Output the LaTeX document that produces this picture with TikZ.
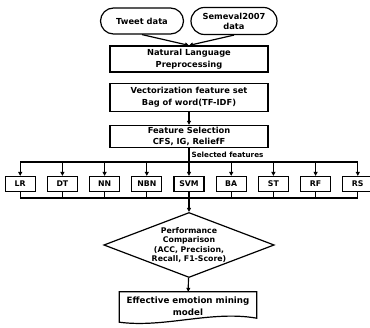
\documentclass[tikz,border=0pt]{standalone}
\usepackage{fontspec}
\setmainfont{DejaVu Sans}
\usetikzlibrary{positioning,shapes.geometric,shapes.misc,arrows.meta}
\tikzset{
box/.style={draw,line width=1.2pt,minimum width=158pt,align=center,inner sep=1pt,font=\bfseries\fontsize{8.3}{11.5}\selectfont},
src/.style={draw,line width=1.2pt,rounded rectangle,align=center,inner sep=1pt,font=\bfseries\fontsize{8.3}{10}\selectfont},
clf/.style={draw,line width=1.2pt,minimum width=30pt,minimum height=15pt,inner sep=0pt,font=\bfseries\fontsize{7.8}{9}\selectfont},
link/.style={line width=1.2pt},
arr/.style={line width=1.2pt,-{Triangle[length=4pt,width=4pt]}}
}
\begin{document}
\begin{tikzpicture}[x=1pt,y=-1pt]
\useasboundingbox (0,0) rectangle (370,328);
\node[src,minimum width=85pt,minimum height=26pt](tweet) at (142,21) {Tweet data};
\node[src,minimum width=88pt,minimum height=27pt](semeval) at (234,21) {Semeval2007\\data};
\node[box,minimum height=26pt](nlp) at (189,59) {Natural Language\\Preprocessing};
\node[box,minimum height=28pt,below=10pt of nlp](vec) {Vectorization feature set\\Bag of word(TF-IDF)};
\node[box,minimum height=22pt,below=13pt of vec](fs) {Feature Selection\\CFS, IG, ReliefF};
\coordinate (split) at (189,162);
\node[clf](svm) at (189,184) {SVM};
\node[clf,left=11pt of svm](nbn) {NBN};
\node[clf,left=11pt of nbn](nn) {NN};
\node[clf,left=11pt of nn](dt) {DT};
\node[clf,left=11pt of dt](lr) {LR};
\node[clf,right=11pt of svm](ba) {BA};
\node[clf,right=11pt of ba](st) {ST};
\node[clf,right=11pt of st](rf) {RF};
\node[clf,right=11pt of rf](rs) {RS};
\coordinate (join) at (189,198);
\node[draw,diamond,aspect=2.7,inner sep=0pt,minimum height=65pt,line width=1.2pt,align=center,font=\bfseries\fontsize{7.8}{9.5}\selectfont](perf) at (189,245) {Performance\\Comparison\\(ACC, Precision,\\Recall, F1-Score)};
\node[align=center,minimum width=137pt,minimum height=28pt,inner sep=1pt,font=\bfseries\fontsize{8.7}{12}\selectfont](final) at (188,306) {Effective emotion mining\\model};
\draw[line width=1.2pt] ([yshift=-2pt]final.south west) -- (final.north west) -- (final.north east) -- ([yshift=2pt]final.south east)
  .. controls +(-45,-8) and +(45,6) .. ([yshift=-2pt]final.south west) -- cycle;
\draw[arr](tweet.south) -- (nlp.north);
\draw[arr](semeval.south) -- (nlp.north);
\draw[arr](vec) -- (fs);
\draw[link](fs) -- node[right,inner sep=2pt,font=\bfseries\fontsize{7.2}{9}\selectfont](sel){Selected features} (split);
\draw[link](lr |- split) -- (rs |- split);
\draw[arr](lr |- split) -- (lr);
\draw[arr](dt |- split) -- (dt);
\draw[arr](nn |- split) -- (nn);
\draw[arr](nbn |- split) -- (nbn);
\draw[arr](svm |- split) -- (svm);
\draw[arr](ba |- split) -- (ba);
\draw[arr](st |- split) -- (st);
\draw[arr](rf |- split) -- (rf);
\draw[arr](rs |- split) -- (rs);
\draw[link](lr) -- (lr |- join);
\draw[link](dt) -- (dt |- join);
\draw[link](nn) -- (nn |- join);
\draw[link](nbn) -- (nbn |- join);
\draw[link](svm) -- (svm |- join);
\draw[link](ba) -- (ba |- join);
\draw[link](st) -- (st |- join);
\draw[link](rf) -- (rf |- join);
\draw[link](rs) -- (rs |- join);
\draw[link](lr |- join) -- (rs |- join);
\draw[arr](join) -- (perf);
\draw[arr](perf) -- (final);
\end{tikzpicture}
\end{document}
